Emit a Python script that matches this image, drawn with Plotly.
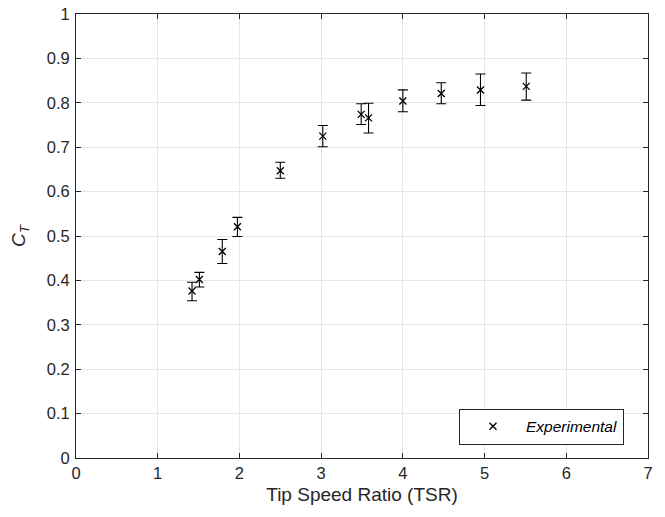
import plotly.graph_objects as go

tsr = [1.42, 1.51, 1.79, 1.975, 2.50, 3.02, 3.49, 3.58, 4.00, 4.47, 4.95, 5.51]
ct = [0.376, 0.402, 0.465, 0.521, 0.647, 0.725, 0.774, 0.766, 0.804, 0.821, 0.829, 0.837]
err_up = [0.020, 0.016, 0.027, 0.021, 0.019, 0.024, 0.024, 0.033, 0.025, 0.024, 0.036, 0.030]
err_down = [0.022, 0.017, 0.027, 0.022, 0.017, 0.024, 0.023, 0.034, 0.024, 0.023, 0.035, 0.031]

x_ticks = [0, 1, 2, 3, 4, 5, 6, 7]
y_ticks = [0, 0.1, 0.2, 0.3, 0.4, 0.5, 0.6, 0.7, 0.8, 0.9, 1]

FONT = "Liberation Sans, Arial, Helvetica, sans-serif"
AX = "#262626"

fig = go.Figure()
fig.add_trace(go.Scatter(
    x=tsr, y=ct, mode="markers", name="<i>Experimental</i>",
    marker=dict(symbol="x-thin", size=7, line=dict(color="black", width=1.3), color="black"),
    error_y=dict(type="data", symmetric=False, array=err_up, arrayminus=err_down,
                 color="black", thickness=1.1, width=5),
))

axis_common = dict(
    showgrid=True, gridcolor="#e6e6e6", gridwidth=1,
    showline=True, linecolor=AX, linewidth=1, mirror="ticks",
    ticks="inside", ticklen=5, tickcolor=AX, tickwidth=1,
    zeroline=False, automargin=False, ticklabeloverflow="allow",
    tickfont=dict(family=FONT, size=16.5, color=AX),
)

fig.update_layout(
    width=665, height=517,
    margin=dict(l=76, r=17, t=14, b=59),
    paper_bgcolor="white", plot_bgcolor="white",
    font=dict(family=FONT, color=AX),
    xaxis=dict(range=[0, 7], tickvals=x_ticks,
               title=dict(text="Tip Speed Ratio (TSR)", font=dict(family=FONT, size=19, color=AX), standoff=6),
               **axis_common),
    yaxis=dict(range=[0, 1], tickvals=y_ticks, ticktext=[str(v) for v in y_ticks],
               ticklabelstandoff=2,
               title=dict(text="<i>C<sub>T</sub></i>", font=dict(family=FONT, size=19, color=AX), standoff=16),
               **axis_common),
    showlegend=True,
    legend=dict(x=0.958, y=0.03, xanchor="right", yanchor="bottom",
                bgcolor="white", bordercolor=AX, borderwidth=1,
                font=dict(family=FONT, size=15.5, color="black"),
                itemwidth=56),
)

fig.write_html("out.html", config={"displayModeBar": False},
               post_script="document.body.style.margin='0';")
